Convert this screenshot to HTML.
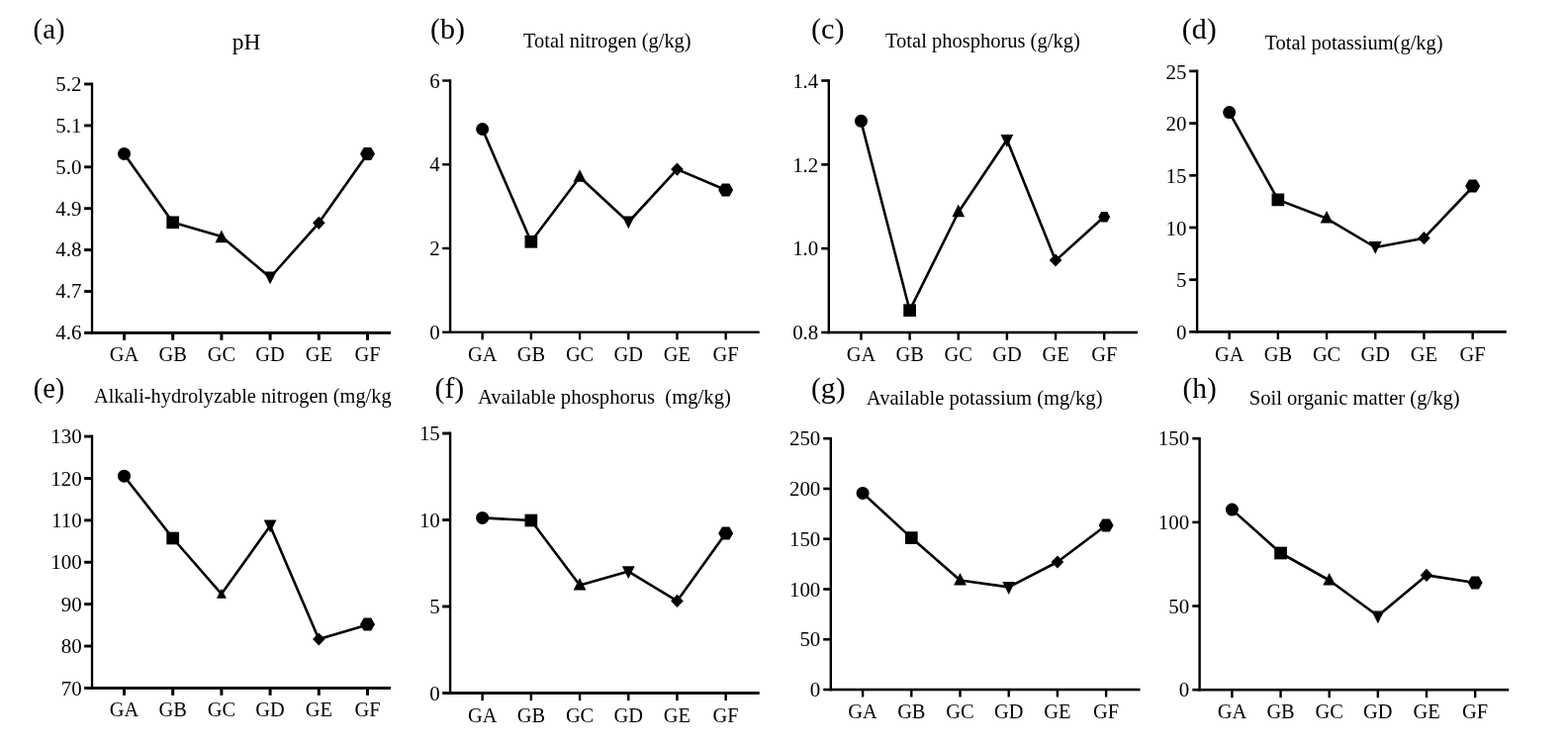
<!DOCTYPE html>
<html><head><meta charset="utf-8"><title>Soil properties</title>
<style>
html,body{margin:0;padding:0;background:#fff;}
body{width:1585px;height:755px;overflow:hidden;}
svg{display:block;}
svg text{font-family:"Liberation Serif",serif;font-size:20.5px;fill:#000;}
</style></head>
<body>
<svg width="1585" height="755" viewBox="0 0 1585 755">
<rect width="1585" height="755" fill="#fff"/>
<text x="82.45" y="91.80" text-anchor="end" style="font-size:20.9px">5.2</text>
<text x="82.45" y="133.70" text-anchor="end" style="font-size:20.9px">5.1</text>
<text x="82.45" y="175.60" text-anchor="end" style="font-size:20.9px">5.0</text>
<text x="82.45" y="217.50" text-anchor="end" style="font-size:20.9px">4.9</text>
<text x="82.45" y="259.40" text-anchor="end" style="font-size:20.9px">4.8</text>
<text x="82.45" y="301.30" text-anchor="end" style="font-size:20.9px">4.7</text>
<text x="82.45" y="343.20" text-anchor="end" style="font-size:20.9px">4.6</text>
<text x="125.50" y="365.10" text-anchor="middle" style="font-size:20.4px">GA</text>
<text x="174.70" y="365.10" text-anchor="middle" style="font-size:20.4px">GB</text>
<text x="223.90" y="365.10" text-anchor="middle" style="font-size:20.4px">GC</text>
<text x="273.10" y="365.10" text-anchor="middle" style="font-size:20.4px">GD</text>
<text x="322.30" y="365.10" text-anchor="middle" style="font-size:20.4px">GE</text>
<text x="371.50" y="365.10" text-anchor="middle" style="font-size:20.4px">GF</text>
<g fill="#000"><rect x="91.90" y="83.55" width="2.30" height="254.30"/><rect x="85.15" y="334.95" width="309.85" height="2.90"/><rect x="85.15" y="83.55" width="7.90" height="2.90"/><rect x="85.15" y="125.45" width="7.90" height="2.90"/><rect x="85.15" y="167.35" width="7.90" height="2.90"/><rect x="85.15" y="209.25" width="7.90" height="2.90"/><rect x="85.15" y="251.15" width="7.90" height="2.90"/><rect x="85.15" y="293.05" width="7.90" height="2.90"/><rect x="124.00" y="336.40" width="3.00" height="7.40"/><rect x="173.20" y="336.40" width="3.00" height="7.40"/><rect x="222.40" y="336.40" width="3.00" height="7.40"/><rect x="271.60" y="336.40" width="3.00" height="7.40"/><rect x="320.80" y="336.40" width="3.00" height="7.40"/><rect x="370.00" y="336.40" width="3.00" height="7.40"/></g>
<polyline points="125.50,155.40 174.70,224.80 223.90,239.00 273.10,280.50 322.30,225.30 371.50,155.40" fill="none" stroke="#000" stroke-width="2.6" stroke-linejoin="round"/>
<circle cx="125.50" cy="155.40" r="6.50"/>
<rect x="168.35" y="218.45" width="12.70" height="12.70"/>
<polygon points="223.90,232.60 230.30,245.20 217.50,245.20"/>
<polygon points="273.10,287.30 279.50,274.50 266.70,274.50"/>
<polygon points="322.30,218.70 328.60,225.30 322.30,231.90 316.00,225.30"/>
<polygon points="364.00,155.40 367.75,148.90 375.25,148.90 379.00,155.40 375.25,161.90 367.75,161.90"/>
<text x="234.70" y="50.40" style="white-space:pre;font-size:23.4px">pH</text>
<text x="33.60" y="38.60" style="font-size:28.8px">(a)</text>
<text x="444.67" y="88.70" text-anchor="end" style="font-size:20.9px">6</text>
<text x="444.67" y="173.45" text-anchor="end" style="font-size:20.9px">4</text>
<text x="444.67" y="258.21" text-anchor="end" style="font-size:20.9px">2</text>
<text x="444.67" y="342.96" text-anchor="end" style="font-size:20.9px">0</text>
<text x="487.65" y="365.00" text-anchor="middle" style="font-size:20.4px">GA</text>
<text x="536.85" y="365.00" text-anchor="middle" style="font-size:20.4px">GB</text>
<text x="586.05" y="365.00" text-anchor="middle" style="font-size:20.4px">GC</text>
<text x="635.25" y="365.00" text-anchor="middle" style="font-size:20.4px">GD</text>
<text x="684.45" y="365.00" text-anchor="middle" style="font-size:20.4px">GE</text>
<text x="733.65" y="365.00" text-anchor="middle" style="font-size:20.4px">GF</text>
<g fill="#000"><rect x="453.87" y="80.30" width="2.40" height="256.66"/><rect x="447.17" y="334.56" width="320.53" height="2.40"/><rect x="447.17" y="80.30" width="7.90" height="2.40"/><rect x="447.17" y="165.05" width="7.90" height="2.40"/><rect x="447.17" y="249.81" width="7.90" height="2.40"/><rect x="486.45" y="335.76" width="2.40" height="7.60"/><rect x="535.65" y="335.76" width="2.40" height="7.60"/><rect x="584.85" y="335.76" width="2.40" height="7.60"/><rect x="634.05" y="335.76" width="2.40" height="7.60"/><rect x="683.25" y="335.76" width="2.40" height="7.60"/><rect x="732.45" y="335.76" width="2.40" height="7.60"/></g>
<polyline points="487.65,130.50 536.85,244.30 586.05,179.00 635.25,224.50 684.45,171.10 733.65,192.00" fill="none" stroke="#000" stroke-width="2.6" stroke-linejoin="round"/>
<circle cx="487.65" cy="130.50" r="6.50"/>
<rect x="530.50" y="237.95" width="12.70" height="12.70"/>
<polygon points="586.05,171.20 592.45,183.80 579.65,183.80"/>
<polygon points="635.25,231.30 641.65,218.50 628.85,218.50"/>
<polygon points="684.45,164.50 690.75,171.10 684.45,177.70 678.15,171.10"/>
<polygon points="726.15,192.00 729.90,185.50 737.40,185.50 741.15,192.00 737.40,198.50 729.90,198.50"/>
<text x="529.00" y="48.00" style="white-space:pre;font-size:20.4px">Total nitrogen (g/kg)</text>
<text x="434.95" y="38.50" style="font-size:30px">(b)</text>
<text x="827.30" y="88.70" text-anchor="end" style="font-size:20.9px">1.4</text>
<text x="827.30" y="173.53" text-anchor="end" style="font-size:20.9px">1.2</text>
<text x="827.30" y="258.37" text-anchor="end" style="font-size:20.9px">1.0</text>
<text x="827.30" y="343.20" text-anchor="end" style="font-size:20.9px">0.8</text>
<text x="870.45" y="365.00" text-anchor="middle" style="font-size:20.4px">GA</text>
<text x="919.60" y="365.00" text-anchor="middle" style="font-size:20.4px">GB</text>
<text x="968.75" y="365.00" text-anchor="middle" style="font-size:20.4px">GC</text>
<text x="1017.90" y="365.00" text-anchor="middle" style="font-size:20.4px">GD</text>
<text x="1067.05" y="365.00" text-anchor="middle" style="font-size:20.4px">GE</text>
<text x="1116.20" y="365.00" text-anchor="middle" style="font-size:20.4px">GF</text>
<g fill="#000"><rect x="836.60" y="80.20" width="2.40" height="257.10"/><rect x="830.20" y="334.70" width="319.80" height="2.60"/><rect x="830.20" y="80.20" width="7.60" height="2.60"/><rect x="830.20" y="165.03" width="7.60" height="2.60"/><rect x="830.20" y="249.87" width="7.60" height="2.60"/><rect x="869.25" y="336.00" width="2.40" height="7.70"/><rect x="918.40" y="336.00" width="2.40" height="7.70"/><rect x="967.55" y="336.00" width="2.40" height="7.70"/><rect x="1016.70" y="336.00" width="2.40" height="7.70"/><rect x="1065.85" y="336.00" width="2.40" height="7.70"/><rect x="1115.00" y="336.00" width="2.40" height="7.70"/></g>
<polyline points="870.45,122.90 919.60,313.70 968.75,214.50 1017.90,141.30 1067.05,263.40 1116.20,219.00" fill="none" stroke="#000" stroke-width="2.6" stroke-linejoin="round"/>
<circle cx="870.45" cy="122.30" r="6.50"/>
<rect x="913.25" y="307.35" width="12.70" height="12.70"/>
<polygon points="968.75,206.60 975.15,219.20 962.35,219.20"/>
<polygon points="1017.90,148.90 1024.30,136.10 1011.50,136.10"/>
<polygon points="1067.05,256.40 1073.35,263.00 1067.05,269.60 1060.75,263.00"/>
<polygon points="1110.20,219.20 1113.20,214.00 1119.20,214.00 1122.20,219.20 1119.20,224.40 1113.20,224.40"/>
<text x="895.00" y="48.00" style="white-space:pre;font-size:20.5px">Total phosphorus (g/kg)</text>
<text x="819.90" y="38.50" style="font-size:30.3px">(c)</text>
<text x="1199.50" y="79.60" text-anchor="end" style="font-size:20.9px">25</text>
<text x="1199.50" y="132.30" text-anchor="end" style="font-size:20.9px">20</text>
<text x="1199.50" y="185.00" text-anchor="end" style="font-size:20.9px">15</text>
<text x="1199.50" y="237.70" text-anchor="end" style="font-size:20.9px">10</text>
<text x="1199.50" y="290.40" text-anchor="end" style="font-size:20.9px">5</text>
<text x="1199.50" y="343.10" text-anchor="end" style="font-size:20.9px">0</text>
<text x="1242.65" y="365.00" text-anchor="middle" style="font-size:20.4px">GA</text>
<text x="1291.85" y="365.00" text-anchor="middle" style="font-size:20.4px">GB</text>
<text x="1341.05" y="365.00" text-anchor="middle" style="font-size:20.4px">GC</text>
<text x="1390.25" y="365.00" text-anchor="middle" style="font-size:20.4px">GD</text>
<text x="1439.45" y="365.00" text-anchor="middle" style="font-size:20.4px">GE</text>
<text x="1488.65" y="365.00" text-anchor="middle" style="font-size:20.4px">GF</text>
<g fill="#000"><rect x="1208.90" y="70.55" width="2.40" height="266.20"/><rect x="1202.20" y="334.05" width="320.60" height="2.70"/><rect x="1202.20" y="70.55" width="7.90" height="2.70"/><rect x="1202.20" y="123.25" width="7.90" height="2.70"/><rect x="1202.20" y="175.95" width="7.90" height="2.70"/><rect x="1202.20" y="228.65" width="7.90" height="2.70"/><rect x="1202.20" y="281.35" width="7.90" height="2.70"/><rect x="1241.45" y="335.40" width="2.40" height="7.70"/><rect x="1290.65" y="335.40" width="2.40" height="7.70"/><rect x="1339.85" y="335.40" width="2.40" height="7.70"/><rect x="1389.05" y="335.40" width="2.40" height="7.70"/><rect x="1438.25" y="335.40" width="2.40" height="7.70"/><rect x="1487.45" y="335.40" width="2.40" height="7.70"/></g>
<polyline points="1242.65,113.60 1291.85,201.90 1341.05,220.80 1390.25,250.00 1439.45,240.70 1488.65,189.00" fill="none" stroke="#000" stroke-width="2.6" stroke-linejoin="round"/>
<circle cx="1242.65" cy="113.60" r="6.50"/>
<rect x="1285.50" y="195.55" width="12.70" height="12.70"/>
<polygon points="1341.05,213.00 1347.45,225.60 1334.65,225.60"/>
<polygon points="1390.25,256.80 1396.65,244.00 1383.85,244.00"/>
<polygon points="1439.45,234.10 1445.75,240.70 1439.45,247.30 1433.15,240.70"/>
<polygon points="1481.15,188.00 1484.90,181.50 1492.40,181.50 1496.15,188.00 1492.40,194.50 1484.90,194.50"/>
<text x="1278.50" y="50.10" style="white-space:pre;font-size:20.5px">Total potassium(g/kg)</text>
<text x="1194.80" y="38.50" style="font-size:30px">(d)</text>
<text x="82.65" y="448.30" text-anchor="end" style="font-size:20.9px">130</text>
<text x="82.65" y="490.68" text-anchor="end" style="font-size:20.9px">120</text>
<text x="82.65" y="533.07" text-anchor="end" style="font-size:20.9px">110</text>
<text x="82.65" y="575.45" text-anchor="end" style="font-size:20.9px">100</text>
<text x="82.65" y="617.83" text-anchor="end" style="font-size:20.9px">90</text>
<text x="82.65" y="660.22" text-anchor="end" style="font-size:20.9px">80</text>
<text x="82.65" y="702.60" text-anchor="end" style="font-size:20.9px">70</text>
<text x="125.50" y="724.30" text-anchor="middle" style="font-size:20.4px">GA</text>
<text x="174.70" y="724.30" text-anchor="middle" style="font-size:20.4px">GB</text>
<text x="223.90" y="724.30" text-anchor="middle" style="font-size:20.4px">GC</text>
<text x="273.10" y="724.30" text-anchor="middle" style="font-size:20.4px">GD</text>
<text x="322.30" y="724.30" text-anchor="middle" style="font-size:20.4px">GE</text>
<text x="371.50" y="724.30" text-anchor="middle" style="font-size:20.4px">GF</text>
<g fill="#000"><rect x="91.90" y="439.65" width="2.30" height="257.20"/><rect x="85.15" y="693.95" width="309.85" height="2.90"/><rect x="85.15" y="439.65" width="7.90" height="2.90"/><rect x="85.15" y="482.03" width="7.90" height="2.90"/><rect x="85.15" y="524.42" width="7.90" height="2.90"/><rect x="85.15" y="566.80" width="7.90" height="2.90"/><rect x="85.15" y="609.18" width="7.90" height="2.90"/><rect x="85.15" y="651.57" width="7.90" height="2.90"/><rect x="124.00" y="695.40" width="3.00" height="7.40"/><rect x="173.20" y="695.40" width="3.00" height="7.40"/><rect x="222.40" y="695.40" width="3.00" height="7.40"/><rect x="271.60" y="695.40" width="3.00" height="7.40"/><rect x="320.80" y="695.40" width="3.00" height="7.40"/><rect x="370.00" y="695.40" width="3.00" height="7.40"/></g>
<polyline points="125.50,481.20 174.70,544.00 223.90,600.30 273.10,531.50 322.30,646.00 371.50,631.40" fill="none" stroke="#000" stroke-width="2.6" stroke-linejoin="round"/>
<circle cx="125.50" cy="481.20" r="6.50"/>
<rect x="168.35" y="537.65" width="12.70" height="12.70"/>
<polygon points="223.90,594.91 228.89,604.74 218.91,604.74"/>
<polygon points="273.10,538.30 279.50,525.50 266.70,525.50"/>
<polygon points="322.30,639.40 328.60,646.00 322.30,652.60 316.00,646.00"/>
<polygon points="364.00,631.00 367.75,624.50 375.25,624.50 379.00,631.00 375.25,637.50 367.75,637.50"/>
<text x="95.00" y="407.00" style="white-space:pre;font-size:20.35px">Alkali-hydrolyzable nitrogen (mg/kg</text>
<text x="33.70" y="402.40" style="font-size:28.5px">(e)</text>
<text x="444.77" y="445.30" text-anchor="end" style="font-size:20.9px">15</text>
<text x="444.77" y="532.78" text-anchor="end" style="font-size:20.9px">10</text>
<text x="444.77" y="620.27" text-anchor="end" style="font-size:20.9px">5</text>
<text x="444.77" y="707.75" text-anchor="end" style="font-size:20.9px">0</text>
<text x="487.65" y="730.30" text-anchor="middle" style="font-size:20.4px">GA</text>
<text x="536.85" y="730.30" text-anchor="middle" style="font-size:20.4px">GB</text>
<text x="586.05" y="730.30" text-anchor="middle" style="font-size:20.4px">GC</text>
<text x="635.25" y="730.30" text-anchor="middle" style="font-size:20.4px">GD</text>
<text x="684.45" y="730.30" text-anchor="middle" style="font-size:20.4px">GE</text>
<text x="733.65" y="730.30" text-anchor="middle" style="font-size:20.4px">GF</text>
<g fill="#000"><rect x="453.87" y="436.55" width="2.40" height="265.35"/><rect x="447.17" y="699.00" width="320.53" height="2.90"/><rect x="447.17" y="436.55" width="7.90" height="2.90"/><rect x="447.17" y="524.03" width="7.90" height="2.90"/><rect x="447.17" y="611.52" width="7.90" height="2.90"/><rect x="486.45" y="700.45" width="2.40" height="7.60"/><rect x="535.65" y="700.45" width="2.40" height="7.60"/><rect x="584.85" y="700.45" width="2.40" height="7.60"/><rect x="634.05" y="700.45" width="2.40" height="7.60"/><rect x="683.25" y="700.45" width="2.40" height="7.60"/><rect x="732.45" y="700.45" width="2.40" height="7.60"/></g>
<polyline points="487.65,523.40 536.85,526.00 586.05,591.50 635.25,577.60 684.45,607.40 733.65,539.00" fill="none" stroke="#000" stroke-width="2.6" stroke-linejoin="round"/>
<circle cx="487.65" cy="523.40" r="6.50"/>
<rect x="530.50" y="519.65" width="12.70" height="12.70"/>
<polygon points="586.05,583.90 592.45,596.50 579.65,596.50"/>
<polygon points="635.25,585.10 641.65,572.30 628.85,572.30"/>
<polygon points="684.45,600.80 690.75,607.40 684.45,614.00 678.15,607.40"/>
<polygon points="726.15,539.00 729.90,532.50 737.40,532.50 741.15,539.00 737.40,545.50 729.90,545.50"/>
<text x="483.00" y="407.80" style="white-space:pre;font-size:20.65px">Available phosphorus  (mg/kg)</text>
<text x="439.50" y="402.00" style="font-size:29.8px">(f)</text>
<text x="829.30" y="450.40" text-anchor="end" style="font-size:20.9px">250</text>
<text x="829.30" y="501.16" text-anchor="end" style="font-size:20.9px">200</text>
<text x="829.30" y="551.92" text-anchor="end" style="font-size:20.9px">150</text>
<text x="829.30" y="602.68" text-anchor="end" style="font-size:20.9px">100</text>
<text x="829.30" y="653.44" text-anchor="end" style="font-size:20.9px">50</text>
<text x="829.30" y="704.20" text-anchor="end" style="font-size:20.9px">0</text>
<text x="872.10" y="726.10" text-anchor="middle" style="font-size:20.4px">GA</text>
<text x="921.30" y="726.10" text-anchor="middle" style="font-size:20.4px">GB</text>
<text x="970.50" y="726.10" text-anchor="middle" style="font-size:20.4px">GC</text>
<text x="1019.70" y="726.10" text-anchor="middle" style="font-size:20.4px">GD</text>
<text x="1068.90" y="726.10" text-anchor="middle" style="font-size:20.4px">GE</text>
<text x="1118.10" y="726.10" text-anchor="middle" style="font-size:20.4px">GF</text>
<g fill="#000"><rect x="838.60" y="441.90" width="2.40" height="256.40"/><rect x="832.20" y="695.70" width="320.30" height="2.60"/><rect x="832.20" y="441.90" width="7.60" height="2.60"/><rect x="832.20" y="492.66" width="7.60" height="2.60"/><rect x="832.20" y="543.42" width="7.60" height="2.60"/><rect x="832.20" y="594.18" width="7.60" height="2.60"/><rect x="832.20" y="644.94" width="7.60" height="2.60"/><rect x="870.90" y="697.00" width="2.40" height="7.50"/><rect x="920.10" y="697.00" width="2.40" height="7.50"/><rect x="969.30" y="697.00" width="2.40" height="7.50"/><rect x="1018.50" y="697.00" width="2.40" height="7.50"/><rect x="1067.70" y="697.00" width="2.40" height="7.50"/><rect x="1116.90" y="697.00" width="2.40" height="7.50"/></g>
<polyline points="872.10,498.40 921.30,543.60 970.50,586.50 1019.70,593.30 1068.90,568.00 1118.10,531.00" fill="none" stroke="#000" stroke-width="2.6" stroke-linejoin="round"/>
<circle cx="872.10" cy="498.40" r="6.50"/>
<rect x="914.95" y="537.25" width="12.70" height="12.70"/>
<polygon points="970.50,578.90 976.90,591.50 964.10,591.50"/>
<polygon points="1019.70,600.90 1026.10,588.10 1013.30,588.10"/>
<polygon points="1068.90,561.40 1075.20,568.00 1068.90,574.60 1062.60,568.00"/>
<polygon points="1110.60,531.00 1114.35,524.50 1121.85,524.50 1125.60,531.00 1121.85,537.50 1114.35,537.50"/>
<text x="875.80" y="408.60" style="white-space:pre;font-size:20.6px">Available potassium (mg/kg)</text>
<text x="820.00" y="401.70" style="font-size:29.6px">(g)</text>
<text x="1202.20" y="450.40" text-anchor="end" style="font-size:20.9px">150</text>
<text x="1202.20" y="535.07" text-anchor="end" style="font-size:20.9px">100</text>
<text x="1202.20" y="619.73" text-anchor="end" style="font-size:20.9px">50</text>
<text x="1202.20" y="704.40" text-anchor="end" style="font-size:20.9px">0</text>
<text x="1245.40" y="726.10" text-anchor="middle" style="font-size:20.4px">GA</text>
<text x="1294.55" y="726.10" text-anchor="middle" style="font-size:20.4px">GB</text>
<text x="1343.70" y="726.10" text-anchor="middle" style="font-size:20.4px">GC</text>
<text x="1392.85" y="726.10" text-anchor="middle" style="font-size:20.4px">GD</text>
<text x="1442.00" y="726.10" text-anchor="middle" style="font-size:20.4px">GE</text>
<text x="1491.15" y="726.10" text-anchor="middle" style="font-size:20.4px">GF</text>
<g fill="#000"><rect x="1211.40" y="441.90" width="2.40" height="256.60"/><rect x="1205.30" y="695.90" width="319.90" height="2.60"/><rect x="1205.30" y="441.90" width="7.30" height="2.60"/><rect x="1205.30" y="526.57" width="7.30" height="2.60"/><rect x="1205.30" y="611.23" width="7.30" height="2.60"/><rect x="1244.20" y="697.20" width="2.40" height="8.00"/><rect x="1293.35" y="697.20" width="2.40" height="8.00"/><rect x="1342.50" y="697.20" width="2.40" height="8.00"/><rect x="1391.65" y="697.20" width="2.40" height="8.00"/><rect x="1440.80" y="697.20" width="2.40" height="8.00"/><rect x="1489.95" y="697.20" width="2.40" height="8.00"/></g>
<polyline points="1245.40,515.10 1294.55,559.00 1343.70,586.50 1392.85,622.50 1442.00,581.40 1491.15,589.00" fill="none" stroke="#000" stroke-width="2.6" stroke-linejoin="round"/>
<circle cx="1245.40" cy="515.10" r="6.50"/>
<rect x="1288.20" y="552.65" width="12.70" height="12.70"/>
<polygon points="1343.70,578.90 1350.10,591.50 1337.30,591.50"/>
<polygon points="1392.85,630.30 1399.25,617.50 1386.45,617.50"/>
<polygon points="1442.00,574.80 1448.30,581.40 1442.00,588.00 1435.70,581.40"/>
<polygon points="1483.65,589.00 1487.40,582.50 1494.90,582.50 1498.65,589.00 1494.90,595.50 1487.40,595.50"/>
<text x="1262.70" y="408.60" style="white-space:pre;font-size:20.6px">Soil organic matter (g/kg)</text>
<text x="1195.50" y="401.50" style="font-size:29.3px">(h)</text>
</svg>
</body></html>
